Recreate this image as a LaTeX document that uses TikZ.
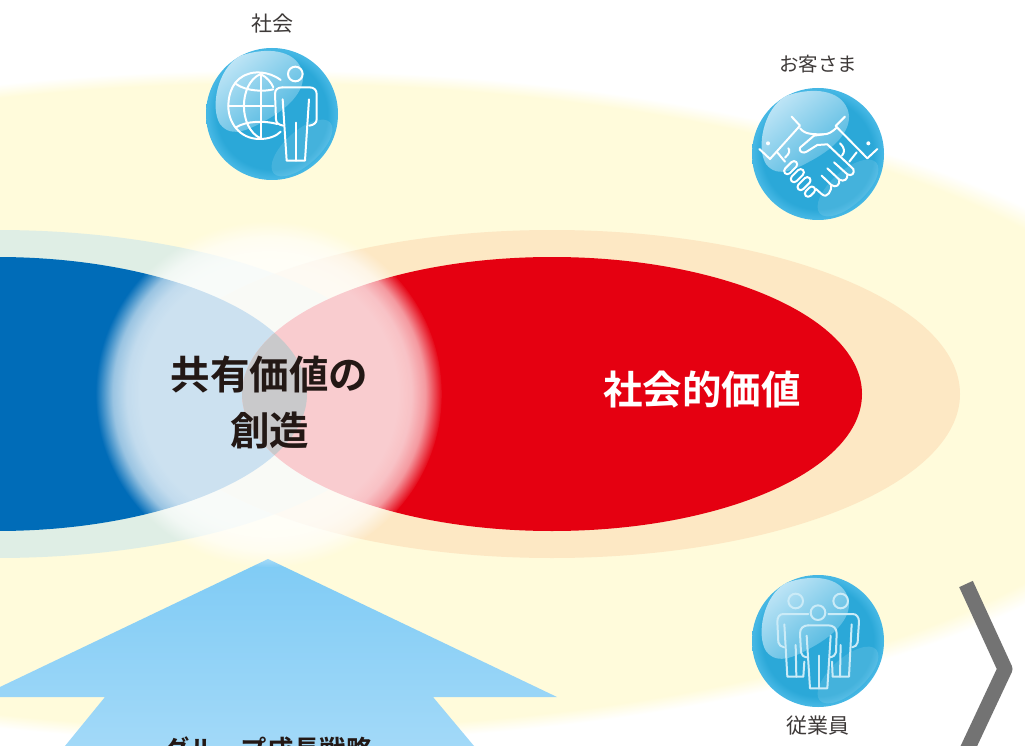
\documentclass[tikz,border=0pt]{standalone}
\usepackage{fontspec}
\usetikzlibrary{fadings}
\newfontfamily\jp{Noto Sans CJK JP}
\newfontfamily\jpb{Noto Sans CJK JP Bold}
\definecolor{cream}{HTML}{FFFBDB}
\definecolor{ringblue}{HTML}{DFEEE5}
\definecolor{ringorange}{HTML}{FDE8C4}
\definecolor{ringmix}{HTML}{E2E6D4}
\definecolor{corpblue}{HTML}{006CB8}
\definecolor{corpred}{HTML}{E50011}
\definecolor{lensgray}{HTML}{C9C9CB}
\definecolor{inkdark}{HTML}{231815}
\definecolor{inksoft}{HTML}{3E3A39}
\definecolor{chevron}{HTML}{737373}
\definecolor{ballin}{HTML}{2BA8D8}
\definecolor{ballout}{HTML}{45B7E4}
\definecolor{blobtop}{HTML}{C4E7F7}
\definecolor{blobend}{HTML}{3FB1DD}
\definecolor{arrowtop}{HTML}{7FCBF5}
\definecolor{arrowbot}{HTML}{A2D9F8}
\pgfdeclareradialshading{creamshade}{\pgfpointorigin}{color(0bp)=(cream);color(24bp)=(cream);color(25bp)=(white);color(50bp)=(white)}
\pgfdeclareradialshading{ballshade}{\pgfpointorigin}{color(0bp)=(ballin);color(21bp)=(ballin);color(24.5bp)=(ballout);color(25bp)=(ballout);color(50bp)=(ballout)}
\pgfdeclareradialshading{glowshade}{\pgfpointorigin}{color(0bp)=(pgftransparent!20);color(18.5bp)=(pgftransparent!20);color(20.5bp)=(pgftransparent!24);color(22.5bp)=(pgftransparent!40);color(25bp)=(pgftransparent!100);color(50bp)=(pgftransparent!100)}
\pgfdeclarefading{glowfade}{\pgfuseshading{glowshade}}
\tikzset{
  lbl/.style={font=\jp\fontsize{21}{24}\selectfont, text=inksoft, inner sep=0pt},
  bigtext/.style={font=\jpb\fontsize{39.5}{56}\selectfont, inner sep=0pt, align=center},
  iconline/.style={draw=white, line width=2pt, line join=round, line cap=round, fill=none},
  paleline/.style={draw=white!72!ballout, line width=2pt, line join=round, line cap=round, fill=none}
}
% ball: centre given by the enclosing scope, drawn on a 66 px radius
\newcommand{\iconball}{%
  \shade[shading=ballshade] (0,0) circle [radius=66];
  \shade[top color=blobtop, bottom color=blobend, shading angle=40]
    (-32,-58) .. controls (-10,-66) and (18,-66) .. (28,-48)
    .. controls (38,-30) and (22,-10) .. (-2,4)
    .. controls (-20,14) and (-40,26) .. (-52,10)
    .. controls (-62,-6) and (-55,-45) .. (-32,-58) -- cycle;
  \fill[white, opacity=.12, rotate around={42:(30,34)}] (30,34) ellipse [x radius=38, y radius=17];
}
\begin{document}
\begin{tikzpicture}[x=1pt,y=-1pt]
\useasboundingbox (0,0) rectangle (1025,746);
\clip (0,0) rectangle (1025,746);
\fill[white] (0,0) rectangle (1025,746);
% yellow field
\shade[shading=creamshade] (268,406) ellipse [x radius=940, y radius=336];
% outer ellipses
\fill[ringblue] (-3,394) ellipse [x radius=408, y radius=164];
\fill[ringorange] (552,394) ellipse [x radius=408, y radius=164];
\begin{scope}
  \clip (-3,394) ellipse [x radius=408, y radius=164];
  \fill[ringmix] (552,394) ellipse [x radius=408, y radius=164];
\end{scope}
% inner ellipses
\fill[corpblue] (-3,394) ellipse [x radius=310, y radius=137];
\fill[corpred] (552,394) ellipse [x radius=310, y radius=137];
% arrow
\shade[top color=arrowtop, bottom color=arrowbot] (268,559) -- (557,697) -- (433,697) -- (474,746) -- (65,746) -- (105,697) -- (-21,697) -- cycle;
% glow
\fill[white, path fading=glowfade] (269,394) circle [radius=173];
% lens
\begin{scope}
  \clip (-3,394) ellipse [x radius=310, y radius=137];
  \fill[lensgray] (552,394) ellipse [x radius=310, y radius=137];
\end{scope}
% chevron
\draw[chevron, line width=15pt, line join=round] (966,584) -- (1005,669) -- (967,750);
% texts
\node[bigtext, text=inkdark] (shared) at (269.5,402) {共有価値の\\創造};
\node[bigtext, text=white] (social) at (702,390) {社会的価値};
\node[bigtext, text=inkdark, font=\jpb\fontsize{26.3}{30}\selectfont] (growth) at (268,749) {グループ成長戦略};
\node[lbl] (lsociety) at (272,24) {社会};
\node[lbl, font=\jp\fontsize{19.5}{24}\selectfont] (lcustomer) at (818,64) {お客さま};
\node[lbl] (lemployee) at (818,726) {従業員};
% icon: society
\begin{scope}[shift={(272,114)}]
  \iconball
\end{scope}
\begin{scope}[shift={(190,0)}, x=0.3333pt, y=-0.3333pt]
  \draw[iconline] (316,222) circle [radius=22];
  \draw[iconline] (272,240) .. controls (235,212) and (190,215) .. (175,222)
     .. controls (130,235) and (115,280) .. (115,318)
     .. controls (115,370) and (150,415) .. (205,417)
     .. controls (235,418) and (260,408) .. (272,395);
  \draw[iconline] (212,222) .. controls (145,250) and (145,385) .. (212,415);
  \draw[iconline] (212,222) .. controls (232,232) and (245,250) .. (250,262);
  \draw[iconline] (212,222) -- (212,415);
  \draw[iconline] (115,318) -- (250,318);
  \draw[iconline] (138,252) .. controls (170,275) and (225,275) .. (250,268);
  \draw[iconline] (138,382) .. controls (170,362) and (225,362) .. (262,372);
  \draw[iconline] (278,262) -- (358,262) .. controls (372,262) and (380,270) .. (380,282)
     -- (380,358) .. controls (380,368) and (372,375) .. (358,377);
  \draw[iconline] (278,262) .. controls (262,262) and (255,270) .. (255,282)
     -- (258,358) .. controls (258,368) and (266,375) .. (280,377);
  \draw[iconline] (278,298) -- (290,482) -- (345,482) -- (357,298);
  \draw[iconline] (317,368) -- (317,482);
\end{scope}
% icon: customers
\begin{scope}[shift={(818,154)}]
  \iconball
\end{scope}
\begin{scope}[shift={(740,45)}, x=0.3333pt, y=-0.3333pt]
  \draw[iconline] (155,215) -- (180,242) -- (90,342) -- (58,312);
  \draw[iconline] (315,215) -- (287,243) -- (382,340) -- (412,312);
  \fill[white] (84,295) circle [radius=6];
  \fill[white] (385,295) circle [radius=6];
  \draw[iconline] (180,250) .. controls (195,268) and (215,268) .. (250,268) .. controls (265,268) and (275,262) .. (290,248);
  \draw[iconline] (250,268) -- (222,272) -- (180,308) .. controls (175,322) and (192,326) .. (200,320) -- (232,300) -- (262,298) -- (340,372);
  \draw[iconline] (300,295) .. controls (315,310) and (315,320) .. (306,332);
  \draw[iconline] (110,320) -- (135,350);
  \draw[iconline] (350,322) -- (328,350);
  \draw[iconline] (135,338) .. controls (150,325) and (150,315) .. (145,310);
  \draw[iconline, rounded corners=3.5pt, rotate around={45:(152,368)}] (128,358) rectangle (176,378);
  \draw[iconline, rounded corners=3.5pt, rotate around={45:(172,392)}] (148,382) rectangle (196,402);
  \draw[iconline, rounded corners=3.5pt, rotate around={45:(192,416)}] (168,406) rectangle (216,426);
  \draw[iconline, rounded corners=3.5pt, rotate around={45:(210,440)}] (192,430) rectangle (228,450);
  \draw[iconline] (340,372) .. controls (345,385) and (335,395) .. (322,388) -- (282,352);
  \draw[iconline] (322,388) .. controls (325,402) and (312,412) .. (298,404) -- (262,370);
  \draw[iconline] (298,404) .. controls (300,420) and (288,430) .. (274,420) -- (245,392);
  \draw[iconline] (274,420) .. controls (276,436) and (262,462) .. (246,448) -- (228,432);
\end{scope}
% icon: employees
\begin{scope}[shift={(818,641)}]
  \iconball
\end{scope}
\begin{scope}[shift={(740,565)}, x=0.3333pt, y=-0.3333pt]
  \draw[paleline] (167,108) circle [radius=22];
  \draw[paleline] (302,108) circle [radius=22];
  \draw[paleline] (234,143) circle [radius=22];
  \draw[paleline] (205,147) -- (130,147) .. controls (118,147) and (112,157) .. (112,170) -- (115,232) .. controls (116,240) and (124,245) .. (132,247);
  \draw[paleline] (133,178) -- (142,335) -- (190,335) -- (193,290);
  \draw[paleline] (167,240) -- (169,335);
  \draw[paleline] (265,147) -- (338,147) .. controls (350,147) and (357,157) .. (357,170) -- (353,232) .. controls (352,240) and (345,245) .. (337,247);
  \draw[paleline] (335,178) -- (327,335) -- (278,335) -- (276,290);
  \draw[paleline] (302,240) -- (300,335);
  \draw[paleline] (205,181) -- (265,181) .. controls (280,181) and (290,190) .. (290,205) -- (288,262) .. controls (287,270) and (280,275) .. (270,277);
  \draw[paleline] (205,181) .. controls (190,181) and (180,190) .. (180,205) -- (183,262) .. controls (184,270) and (190,275) .. (200,277);
  \draw[paleline] (200,212) -- (210,370) -- (262,370) -- (272,212);
  \draw[paleline] (236,272) -- (236,370);
\end{scope}
\end{tikzpicture}
\end{document}
